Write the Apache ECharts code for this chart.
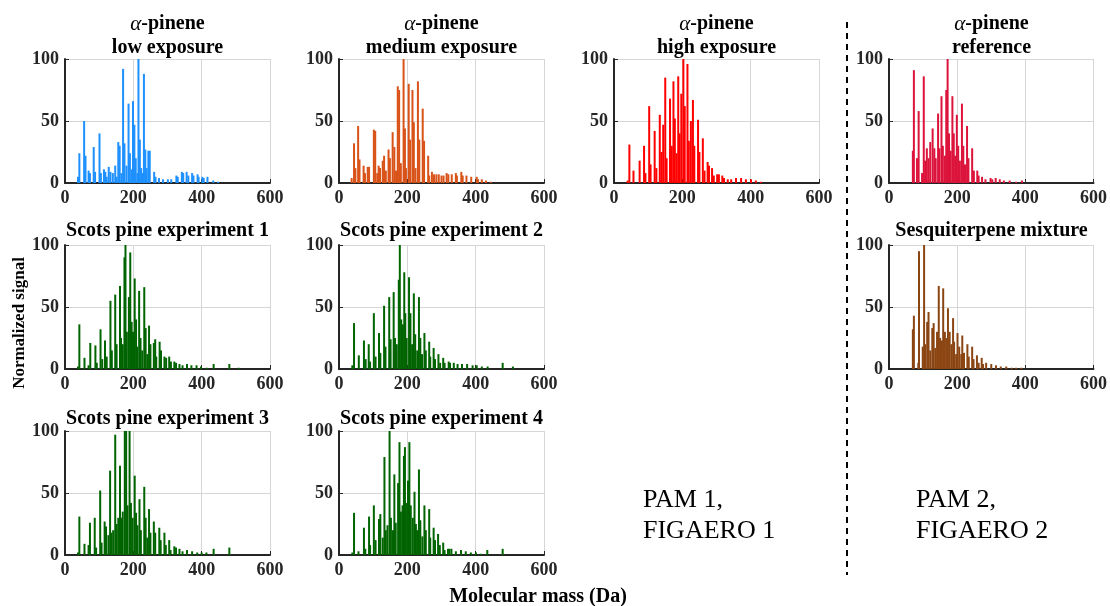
<!DOCTYPE html>
<html>
<head>
<meta charset="utf-8">
<script src="https://cdn.jsdelivr.net/npm/echarts@6/dist/echarts.min.js"></script>
<style>html,body{margin:0;padding:0;background:#fff}#c{width:1110px;height:606px}</style>
</head>
<body>
<div id="c"></div>
<script>
// ---- Data ----
const xTicks = [0, 200, 400, 600];
const yTicks = [0, 50, 100];
const panelTitles = [
  '{a|α}-pinene\nlow exposure',
  '{a|α}-pinene\nmedium exposure',
  '{a|α}-pinene\nhigh exposure',
  '{a|α}-pinene\nreference',
  'Scots pine experiment 1',
  'Scots pine experiment 2',
  'Sesquiterpene mixture',
  'Scots pine experiment 3',
  'Scots pine experiment 4'
];
const xName = 'Molecular mass (Da)';
const yName = 'Normalized signal';

const lowMass = [38,42,56,60,69,73,84,88,101,105,114,118,122,128,133,140,147,151,156,160,165,170,174,180,186,190,196,199,203,207,212,215,219,223,227,231,235,239,244,248,261,265,275,287,301,311,326,330,342,346,356,361,372,376,388,391,402,406,417,434,448];
const lowVal  = [5,24,50,22,10,8,29,9,40,8,11,9,5,13,9,8,14,5,33,30,8,92,32,14,64,24,11,66,47,20,8,100,35,12,8,88,27,12,26,26,9,5,4,3,3,3,6,5,9,8,9,6,8,6,7,5,5,4,5,2,1];

const medMass = [37,44,48,56,60,72,76,84,88,102,106,112,116,120,128,132,137,145,149,157,162,167,172,176,181,189,193,196,204,208,215,219,224,231,235,245,249,261,264,272,278,285,292,300,306,315,320,330,342,345,358,362,373,387,403,407,418,430,444];
const medVal  = [4,32,12,46,19,14,8,13,13,43,42,8,14,12,18,22,10,27,20,41,29,10,78,75,16,100,44,12,80,35,75,49,12,82,35,60,34,22,6,9,7,7,7,6,6,8,7,7,8,6,9,6,6,5,5,3,3,2,1];

const highMass = [40,45,57,75,88,92,103,107,119,124,134,139,144,150,154,164,169,174,178,183,188,192,197,203,207,215,219,225,231,235,246,250,260,265,274,278,287,292,302,307,317,322,333,343,357,372,386,401,415,430];
const highVal  = [2,31,10,18,30,8,62,15,42,12,55,25,47,85,20,68,30,82,52,24,86,40,72,100,62,96,34,50,67,30,51,25,36,10,17,14,12,6,7,7,6,4,3,3,4,4,3,3,2,1];

const refMass = [70,73,82,87,97,102,106,111,116,121,128,133,137,144,148,154,158,164,168,172,176,181,186,190,194,199,203,208,214,218,223,229,233,244,249,259,263,273,283,298,303,313,325,337,354,373,390];
const refVal  = [26,91,20,58,8,86,18,28,20,33,44,28,20,56,28,70,30,22,75,100,40,26,70,40,22,55,30,18,64,30,15,46,20,28,10,10,6,5,3,4,3,4,3,2,2,1,2];

const sp1Mass = [38,42,57,69,74,89,93,104,109,117,122,133,137,147,151,161,164,169,174,177,181,187,191,195,199,204,208,211,217,221,226,232,236,241,246,250,260,264,267,277,281,291,296,305,310,320,325,335,344,357,370,385,398,414,435,481,508];
const sp1Val  = [2,36,9,3,21,19,5,32,8,23,10,55,15,60,20,67,25,20,90,100,30,58,94,38,30,73,40,18,63,25,15,66,33,12,35,20,21,24,10,22,15,10,9,10,6,6,5,4,3,4,3,3,2,1,4,4,1];

const sp2Mass = [39,44,58,73,78,87,91,102,107,117,121,132,136,147,151,160,164,169,175,178,182,187,191,194,198,205,209,214,219,223,229,234,238,243,250,254,264,267,277,281,291,296,305,309,321,325,336,347,360,375,391,403,418,435,479,509];
const sp2Val  = [3,37,11,23,8,20,6,45,10,29,13,51,18,58,24,62,25,20,72,100,40,36,78,45,25,74,45,20,61,28,15,58,25,12,29,15,22,10,17,8,12,5,9,5,6,5,5,4,4,4,3,3,2,2,5,2];

const sesqMass = [70,73,86,88,99,103,106,112,116,121,127,131,136,141,146,150,155,159,164,169,173,178,183,188,191,197,201,206,212,215,220,230,234,244,248,258,263,272,276,285,300,314,328,344,360,373,388];
const sesqVal  = [32,43,5,95,18,100,20,38,46,15,33,37,17,30,67,25,23,65,30,25,49,30,20,41,22,12,29,18,12,27,13,20,10,18,8,11,5,9,4,5,4,3,2,2,1,1,1];

const sp3Mass = [38,42,57,69,73,87,91,103,107,116,120,127,132,136,141,147,151,156,161,164,169,175,179,183,189,193,198,204,208,212,218,222,232,236,241,246,250,260,264,276,280,291,295,305,309,320,325,335,344,357,372,387,400,414,435,481];
const sp3Val  = [2,31,9,8,26,30,6,52,10,27,23,16,68,18,20,97,25,30,72,30,35,100,100,40,100,42,30,64,34,24,45,20,55,30,14,37,18,27,18,22,12,18,8,12,4,7,6,5,3,4,3,2,2,2,5,6];

const sp4Mass = [39,44,57,73,77,88,91,102,107,117,121,128,133,137,142,148,152,158,162,166,173,177,181,186,190,193,196,202,206,210,216,221,225,229,234,238,244,250,254,264,267,277,281,290,295,305,309,319,323,329,342,357,371,386,401,415,434,479];
const sp4Val  = [2,34,3,22,5,31,8,40,12,29,33,14,79,20,24,100,30,20,65,26,58,91,35,40,80,87,42,60,91,40,30,51,25,20,69,28,15,40,20,37,14,22,12,17,8,10,4,5,5,5,3,4,3,2,2,1,4,5];

// ---- Layout & style ----
const serif = '"Liberation Serif", "Times New Roman", serif';
const seriesList = [
  [lowMass, lowVal, '#1E90FF'],
  [medMass, medVal, '#D95319'],
  [highMass, highVal, '#FF0000'],
  [refMass, refVal, '#DC143C'],
  [sp1Mass, sp1Val, '#006400'],
  [sp2Mass, sp2Val, '#006400'],
  [sesqMass, sesqVal, '#8B4513'],
  [sp3Mass, sp3Val, '#006400'],
  [sp4Mass, sp4Val, '#006400']
];
const colX = [65, 339, 614, 889];
const rowY = [59, 245, 431];
const panelPos = [[0,0],[1,0],[2,0],[3,0],[0,1],[1,1],[3,1],[0,2],[1,2]];
const W = 205, H = 124;
const titleTop = [12, 219, 407];

const grids = [], xAxes = [], yAxes = [], series = [], titles = [];
panelPos.forEach(([c, r], i) => {
  grids.push({left: colX[c], top: rowY[r], width: W, height: H, containLabel: false});
  xAxes.push({
    type: 'value', gridIndex: i, min: xTicks[0], max: xTicks[xTicks.length-1], interval: xTicks[1]-xTicks[0],
    axisLine: {show: true, onZero: false, lineStyle: {color: '#262626', width: 2}},
    axisTick: {show: true, inside: true, length: 4, lineStyle: {color: '#262626', width: 1}},
    axisLabel: {fontFamily: serif, fontWeight: 'bold', fontSize: 18, color: '#262626', margin: 6},
    splitLine: {show: true, lineStyle: {color: '#d6d6d6', width: 1}}
  });
  yAxes.push({
    type: 'value', gridIndex: i, min: yTicks[0], max: yTicks[yTicks.length-1], interval: yTicks[1]-yTicks[0],
    axisLine: {show: true, onZero: false, lineStyle: {color: '#262626', width: 2}},
    axisTick: {show: true, inside: true, length: 4, lineStyle: {color: '#262626', width: 1}},
    axisLabel: {fontFamily: serif, fontWeight: 'bold', fontSize: 18, color: '#262626', margin: 6},
    splitLine: {show: true, lineStyle: {color: '#d6d6d6', width: 1}}
  });
  const [m, v, col] = seriesList[i];
  series.push({
    type: 'bar', xAxisIndex: i, yAxisIndex: i, barWidth: 2, animation: false,
    itemStyle: {color: col},
    data: m.map((x, k) => [x, v[k]])
  });
  titles.push({
    text: panelTitles[i], left: colX[c] + W/2, top: titleTop[r], textAlign: 'center', padding: 0,
    textStyle: {fontFamily: serif, fontWeight: 'bold', fontSize: 20, lineHeight: 24, color: '#000',
      rich: {a: {fontFamily: serif, fontStyle: 'italic', fontWeight: 'normal', fontSize: 21, lineHeight: 24, color: '#000'}}}
  });
});

const chart = echarts.init(document.getElementById('c'), null, {renderer: 'canvas'});
chart.setOption({
  backgroundColor: '#fff',
  animation: false,
  title: titles,
  grid: grids,
  xAxis: xAxes,
  yAxis: yAxes,
  series: series,
  graphic: [
    {type: 'text', x: 20, y: 323, rotation: Math.PI/2,
      style: {text: yName, font: 'bold 17px ' + serif, fill: '#000', textAlign: 'center', textVerticalAlign: 'middle'}},
    {type: 'text', x: 538, y: 597,
      style: {text: xName, font: 'bold 20px ' + serif, fill: '#000', textAlign: 'center', textVerticalAlign: 'middle'}},
    {type: 'line', shape: {x1: 847, y1: 22, x2: 847, y2: 575},
      style: {stroke: '#000', lineWidth: 2, lineDash: [6, 5]}},
    {type: 'text', x: 643, y: 485,
      style: {text: 'PAM 1,\nFIGAERO 1', font: '26px ' + serif, lineHeight: 31, fill: '#000', textAlign: 'left', textVerticalAlign: 'top'}},
    {type: 'text', x: 916, y: 485,
      style: {text: 'PAM 2,\nFIGAERO 2', font: '26px ' + serif, lineHeight: 31, fill: '#000', textAlign: 'left', textVerticalAlign: 'top'}}
  ]
});
</script>
</body>
</html>
